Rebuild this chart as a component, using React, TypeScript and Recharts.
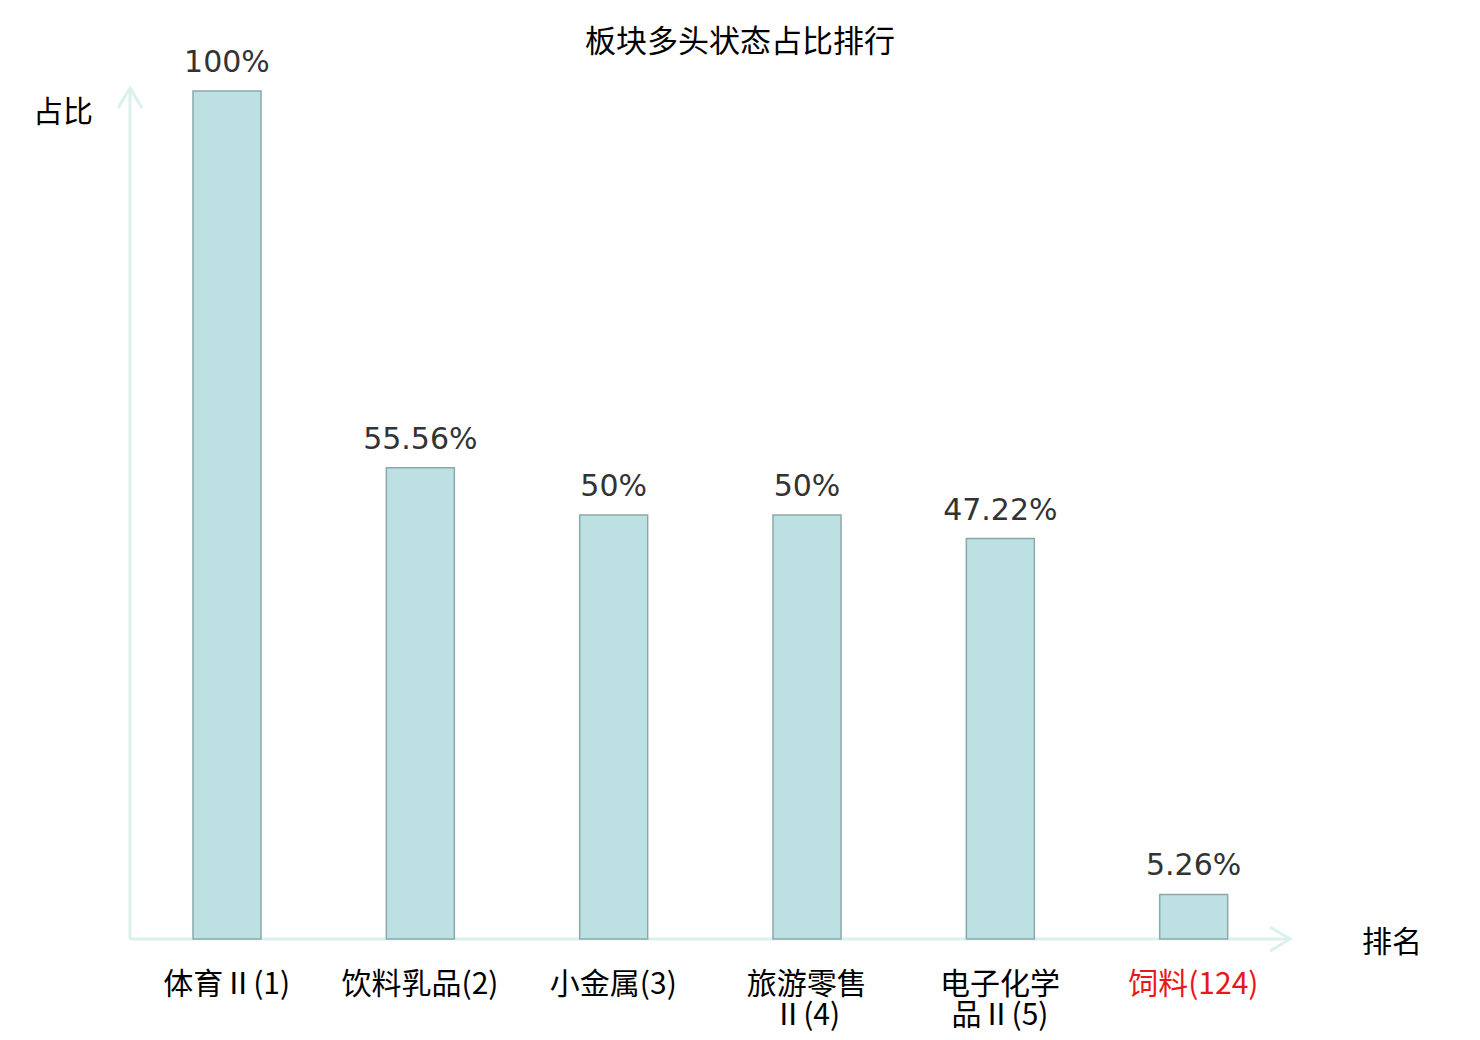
import { BarChart, Bar, XAxis, YAxis, LabelList, Customized } from 'recharts';

const categories = ['体育Ⅱ', '饮料乳品', '小金属', '旅游零售Ⅱ', '电子化学品Ⅱ', '饲料'];
const ranks = [1, 2, 3, 4, 5, 124];
const ratios = [100, 55.56, 50, 50, 47.22, 5.26];
const tickLines = [
  ['体育Ⅱ(1)'],
  ['饮料乳品(2)'],
  ['小金属(3)'],
  ['旅游零售', 'Ⅱ(4)'],
  ['电子化学', '品Ⅱ(5)'],
  ['饲料(124)'],
];

const data = categories.map((name, i) => ({ name, rank: ranks[i], ratio: ratios[i] }));

const W = 1464;
const H = 1026;
const margin = { top: 83, right: 182, left: 122, bottom: 35 };
const xAxisHeight = 60;
const axisColor = '#dcf1ee';
const cjk = '"Noto Sans CJK SC", "Noto Sans", sans-serif';

function CategoryTick(props: any) {
  const { x, y, payload } = props;
  const i = categories.indexOf(payload.value);
  const lines = tickLines[i] || [payload.value];
  const color = i === categories.length - 1 ? '#e8171b' : '#000';
  return (
    <g>
      {lines.map((l, k) => (
        <text
          key={k}
          x={x}
          y={y + 55 + k * 31}
          textAnchor="middle"
          fill={color}
          fontSize={30}
          fontFamily={cjk}
        >
          {l}
        </text>
      ))}
    </g>
  );
}

function Arrows() {
  const left = margin.left;
  const right = W - margin.right;
  const bottom = H - margin.bottom - xAxisHeight;
  const top = margin.top - 3;
  return (
    <g stroke={axisColor} strokeWidth={3} fill="none">
      <line x1={left} y1={bottom} x2={right} y2={bottom} />
      <polyline points={`${right - 20},${bottom - 12} ${right},${bottom} ${right - 20},${bottom + 12}`} />
      <line x1={left} y1={bottom} x2={left} y2={top} />
      <polyline points={`${left - 12},${top + 20} ${left},${top} ${left + 12},${top + 20}`} />
    </g>
  );
}

export default function App() {
  return (
    <div style={{ width: W, height: H, position: 'relative' }}>
      <BarChart width={W} height={H} data={data} margin={margin}>
        <Customized component={<Arrows />} />
        <XAxis
          dataKey="name"
          axisLine={false}
          tickLine={false}
          tickSize={0}
          tickMargin={0}
          height={xAxisHeight}
          interval={0}
          tick={<CategoryTick />}
        />
        <YAxis hide domain={[0, 100]} />
        <Bar
          dataKey="ratio"
          barSize={68}
          fill="#bde0e3"
          stroke="#8ba9ab"
          strokeWidth={1.5}
          isAnimationActive={false}
        >
          <LabelList
            dataKey="ratio"
            position="top"
            offset={19}
            formatter={(v: any) => `${v}%`}
            fill="#333"
            fontSize={30}
            fontFamily='"DejaVu Sans", sans-serif'
          />
        </Bar>
        <text x={732} y={44} textAnchor="middle" fontSize={31} fontFamily={cjk} fill="#000">
          板块多头状态占比排行
        </text>
        <text x={25} y={114} fontSize={30} fontFamily={cjk} fill="#000">
          占比
        </text>
        <text x={1354} y={944} fontSize={30} fontFamily={cjk} fill="#000">
          排名
        </text>
      </BarChart>
    </div>
  );
}
